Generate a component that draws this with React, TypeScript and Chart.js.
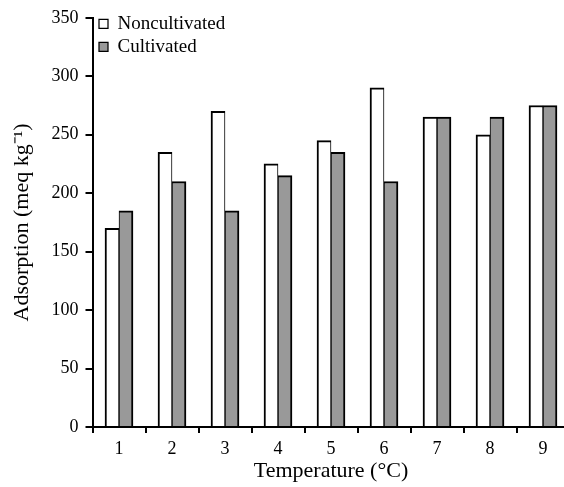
import React, { useEffect, useRef } from "react";
import { Chart, registerables } from "chart.js";

Chart.register(...registerables);

const categories = ["1", "2", "3", "4", "5", "6", "7", "8", "9"];
const noncultivated = [170, 235, 270, 225, 245, 290, 265, 250, 275];
const cultivated = [185, 210, 185, 215, 235, 210, 265, 265, 275];
const seriesNames = ["Noncultivated", "Cultivated"];

const FONT = "'Liberation Serif', 'Times New Roman', serif";

const legendPlace = {
  id: "legendPlace",
  beforeDraw(chart: any) {
    const l = chart.legend;
    if (l) {
      l.left = Math.round(chart.chartArea.left) + 2;
      l.top = chart.chartArea.top - 7.5;
    }
  },
};

export default function App() {
  const ref = useRef<HTMLCanvasElement | null>(null);
  useEffect(() => {
    if (!ref.current) return;
    const chart = new Chart(ref.current, {
      type: "bar",
      data: {
        labels: categories,
        datasets: [
          {
            label: seriesNames[0],
            data: noncultivated,
            backgroundColor: "#ffffff",
            borderColor: "#000000",
            borderWidth: { left: 2, top: 2, right: 1, bottom: 0 },
            borderSkipped: false,
          },
          {
            label: seriesNames[1],
            data: cultivated,
            backgroundColor: "#999999",
            borderColor: "#000000",
            borderWidth: { left: 1, top: 2, right: 2, bottom: 0 },
            borderSkipped: false,
          },
        ],
      },
      options: {
        animation: false,
        responsive: false,
        devicePixelRatio: 1,
        barThickness: 14,
        layout: { padding: { left: 0, right: 10.5, top: 14, bottom: 0 } },
        plugins: {
          tooltip: { enabled: false },
          legend: {
            position: "chartArea" as any,
            align: "start",
            labels: {
              boxWidth: 9,
              boxHeight: 9,
              padding: 4,
              color: "#000",
              font: { family: FONT, size: 19 },
            },
          },
        },
        scales: {
          x: {
            afterFit: (s: any) => {
              s.height = 60;
            },
            border: { display: true, color: "#000", width: 2 },
            grid: {
              display: true,
              drawOnChartArea: false,
              drawTicks: true,
              tickLength: 6,
              color: "#000",
              lineWidth: 2,
              offset: true,
            },
            ticks: {
              color: "#000",
              padding: 5,
              font: { family: FONT, size: 18 },
              maxRotation: 0,
            },
            title: {
              display: true,
              text: "Temperature (°C)",
              color: "#000",
              font: { family: FONT, size: 22 },
              padding: { top: 0, bottom: 2.5 },
            },
          },
          y: {
            min: 0,
            max: 350,
            afterFit: (s: any) => {
              s.width = 92.5;
            },
            border: { display: true, color: "#000", width: 2 },
            grid: {
              display: true,
              drawOnChartArea: false,
              drawTicks: true,
              tickLength: 7,
              color: "#000",
              lineWidth: 2,
            },
            ticks: {
              stepSize: 50,
              color: "#000",
              padding: 7,
              font: { family: FONT, size: 18 },
            },
            title: {
              display: true,
              text: "Adsorption (meq kg⁻¹)",
              color: "#000",
              font: { family: FONT, size: 22 },
              padding: { top: 9.5, bottom: 0 },
            },
          },
        },
      },
      plugins: [legendPlace],
    });
    return () => chart.destroy();
  }, []);

  return (
    <div
      style={{
        position: "fixed",
        left: 0,
        top: 0,
        width: 564,
        height: 487,
        overflow: "hidden",
        background: "#fff",
      }}
    >
      <canvas ref={ref} width={580} height={487} style={{ display: "block" }} />
    </div>
  );
}
